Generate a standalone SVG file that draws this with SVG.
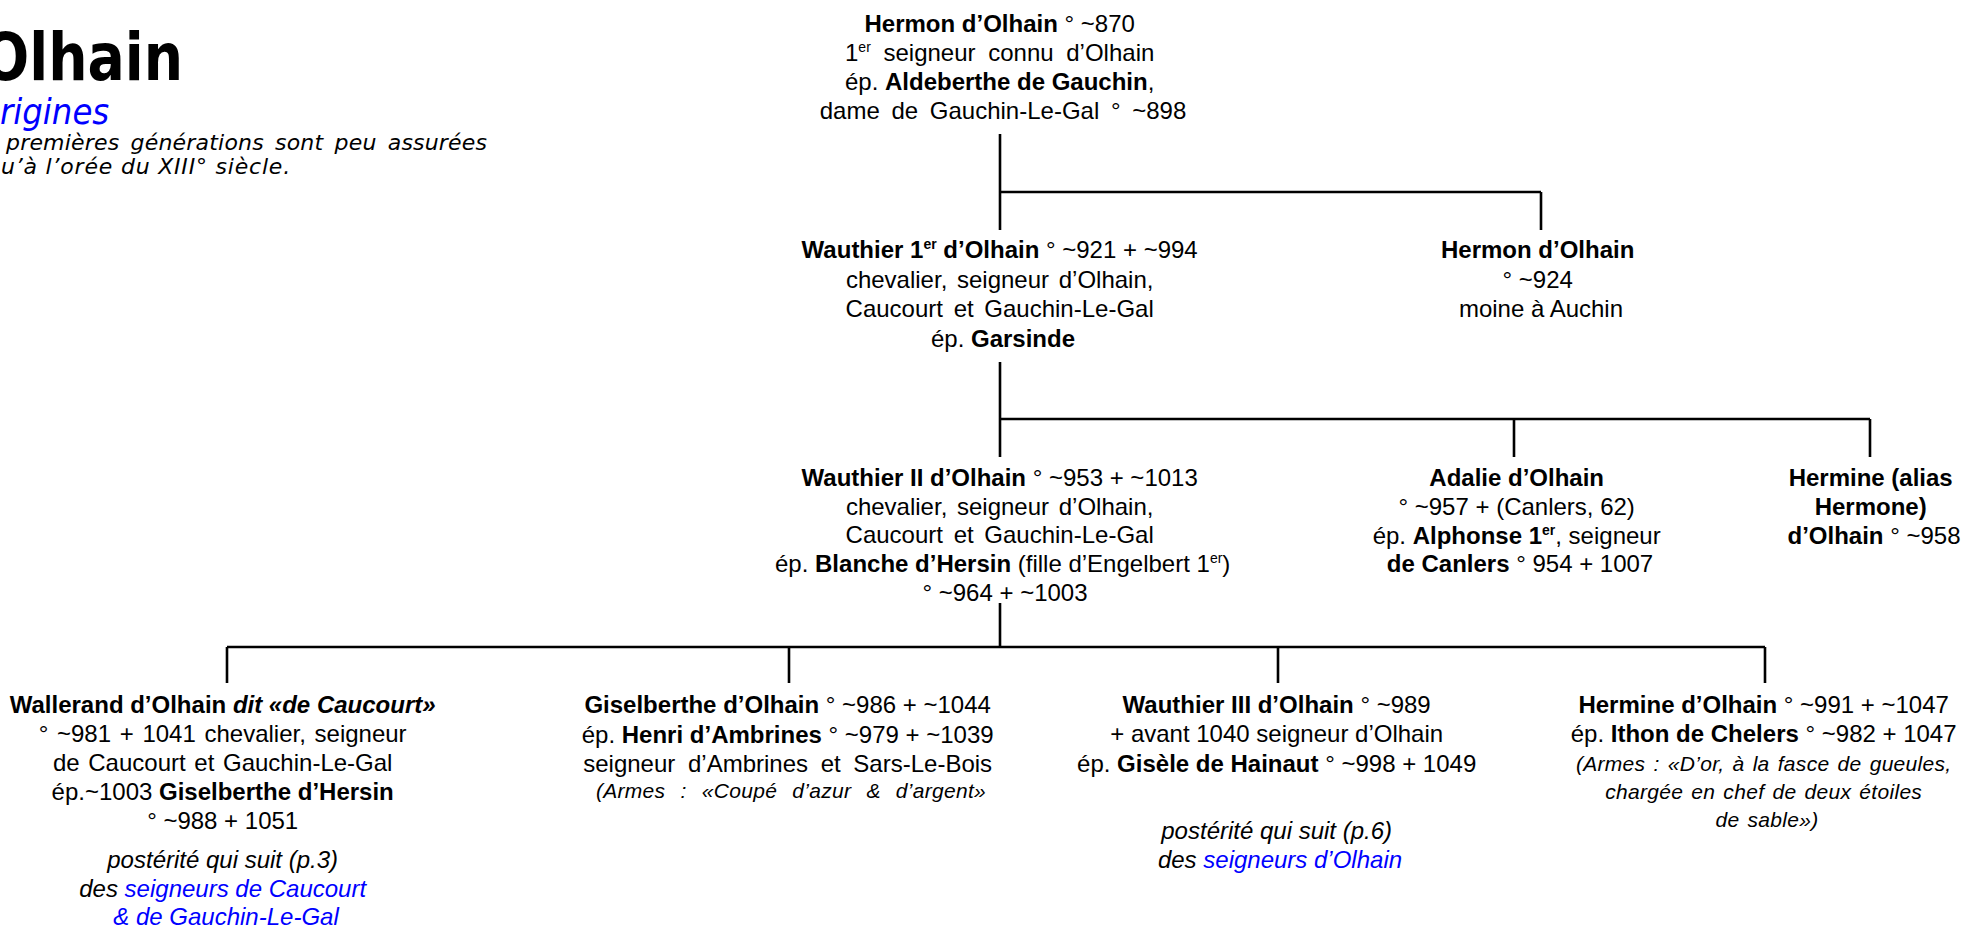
<svg xmlns="http://www.w3.org/2000/svg" width="1963" height="928" viewBox="0 0 1963 928">
<style>
.t{font-family:"Liberation Sans",Arial,sans-serif;font-size:24px;fill:#000;text-anchor:middle}
.b{font-weight:bold}
.i{font-style:italic}
.sup{font-size:14px}
.a{font-size:21px;font-style:italic;letter-spacing:0.3px;word-spacing:2px}
.aw{word-spacing:9px}
.lk{fill:#0000FF}
.title{font-family:"DejaVu Sans Condensed","DejaVu Sans",sans-serif;font-weight:bold;font-size:66px;fill:#000}
.sub{font-family:"DejaVu Sans Condensed","DejaVu Sans",sans-serif;font-style:italic;font-size:36px;fill:#0000FF}
.desc{font-family:"DejaVu Sans",sans-serif;font-style:italic;font-size:22px;fill:#000}
.ln{stroke:#000;stroke-width:2.6;fill:none}
</style>
<rect width="1963" height="928" fill="#fff"/>
<g id="title">
<text class="title" x="-19" y="80" transform="scale(0.93,1)">Olhain</text>
<text class="sub" x="0" y="124">rigines</text>
<text class="desc" x="6" y="150" textLength="481" lengthAdjust="spacing" word-spacing="4">premières générations sont peu assurées</text>
<text class="desc" x="1" y="174" letter-spacing="0.8">u’à l’orée du XIII° siècle.</text>
</g>
<g id="connectors">
<path class="ln" d="M1000 134V230M1000 192H1541M1541 192V230"/>
<path class="ln" d="M1000 362V457M1000 419H1870M1514 419V457M1870 419V457"/>
<path class="ln" d="M1000 603V647M227 647H1765M227 647V683M789 647V683M1278 647V683M1765 647V683"/>
</g>
<g id="n1">
<text class="t">
<tspan x="1003" y="32"><tspan class="b">Hermon d’Olhain</tspan> ° ~870</tspan>
<tspan x="1003" y="61" word-spacing="6">1<tspan class="sup" dy="-9">er</tspan><tspan dy="9"> seigneur connu d’Olhain</tspan></tspan>
<tspan x="1003" y="90">ép. <tspan class="b">Aldeberthe de Gauchin</tspan>,</tspan>
<tspan x="1003" y="119" word-spacing="5">dame de Gauchin-Le-Gal ° ~898</tspan>
</text>
</g>
<g id="n2">
<text class="t">
<tspan x="1003" y="258"><tspan class="b">Wauthier 1<tspan class="sup" dy="-9">er</tspan><tspan dy="9"> d’Olhain</tspan></tspan> ° ~921 + ~994</tspan>
<tspan x="1003" y="288" word-spacing="3">chevalier, seigneur d’Olhain,</tspan>
<tspan x="1003" y="317" word-spacing="4">Caucourt et Gauchin-Le-Gal</tspan>
<tspan x="1003" y="347">ép. <tspan class="b">Garsinde</tspan></tspan>
</text>
</g>
<g id="n3">
<text class="t">
<tspan x="1541" y="258" class="b">Hermon d’Olhain</tspan>
<tspan x="1541" y="288">° ~924</tspan>
<tspan x="1541" y="317">moine à Auchin</tspan>
</text>
</g>
<g id="n4">
<text class="t">
<tspan x="1003" y="486"><tspan class="b">Wauthier II d’Olhain</tspan> ° ~953 + ~1013</tspan>
<tspan x="1003" y="515" word-spacing="3">chevalier, seigneur d’Olhain,</tspan>
<tspan x="1003" y="543" word-spacing="4">Caucourt et Gauchin-Le-Gal</tspan>
<tspan x="1006" y="572">ép. <tspan class="b">Blanche d’Hersin</tspan> (fille d’Engelbert 1<tspan class="sup" dy="-9">er</tspan><tspan dy="9">)</tspan></tspan>
<tspan x="1005" y="601">° ~964 + ~1003</tspan>
</text>
</g>
<g id="n5">
<text class="t">
<tspan x="1520" y="486" class="b">Adalie d’Olhain</tspan>
<tspan x="1520" y="515">° ~957 + (Canlers, 62)</tspan>
<tspan x="1520" y="544">ép. <tspan class="b">Alphonse 1<tspan class="sup" dy="-9">er</tspan></tspan><tspan dy="9">, seigneur</tspan></tspan>
<tspan x="1520" y="572"><tspan class="b">de Canlers</tspan> ° 954 + 1007</tspan>
</text>
</g>
<g id="n6">
<text class="t">
<tspan x="1874" y="486" class="b">Hermine (alias</tspan>
<tspan x="1874" y="515" class="b">Hermone)</tspan>
<tspan x="1874" y="544"><tspan class="b">d’Olhain</tspan> ° ~958</tspan>
</text>
</g>
<g id="n7">
<text class="t">
<tspan x="226" y="713"><tspan class="b">Wallerand d’Olhain </tspan><tspan class="b i">dit «de Caucourt»</tspan></tspan>
<tspan x="226" y="742" word-spacing="2">° ~981 + 1041 chevalier, seigneur</tspan>
<tspan x="226" y="771" word-spacing="2">de Caucourt et Gauchin-Le-Gal</tspan>
<tspan x="226" y="800">ép.~1003 <tspan class="b">Giselberthe d’Hersin</tspan></tspan>
<tspan x="226" y="829">° ~988 + 1051</tspan>
<tspan x="226" y="868" class="i">postérité qui suit (p.3)</tspan>
<tspan x="226" y="897" class="i">des <tspan class="lk">seigneurs de Caucourt</tspan></tspan>
<tspan x="226" y="925" class="i lk">&amp; de Gauchin-Le-Gal</tspan>
</text>
</g>
<g id="n8">
<text class="t">
<tspan x="791" y="713"><tspan class="b">Giselberthe d’Olhain</tspan> ° ~986 + ~1044</tspan>
<tspan x="791" y="743">ép. <tspan class="b">Henri d’Ambrines</tspan> ° ~979 + ~1039</tspan>
<tspan x="791" y="772" word-spacing="6">seigneur d’Ambrines et Sars-Le-Bois</tspan>
<tspan x="791" y="798" class="a aw">(Armes : «Coupé d’azur &amp; d’argent»</tspan>
</text>
</g>
<g id="n9">
<text class="t">
<tspan x="1280" y="713"><tspan class="b">Wauthier III d’Olhain</tspan> ° ~989</tspan>
<tspan x="1280" y="742">+ avant 1040 seigneur d’Olhain</tspan>
<tspan x="1280" y="772">ép. <tspan class="b">Gisèle de Hainaut</tspan> ° ~998 + 1049</tspan>
<tspan x="1280" y="839" class="i">postérité qui suit (p.6)</tspan>
<tspan x="1280" y="868" class="i">des <tspan class="lk">seigneurs d’Olhain</tspan></tspan>
</text>
</g>
<g id="n10">
<text class="t">
<tspan x="1767" y="713"><tspan class="b">Hermine d’Olhain</tspan> ° ~991 + ~1047</tspan>
<tspan x="1767" y="742">ép. <tspan class="b">Ithon de Chelers</tspan> ° ~982 + 1047</tspan>
<tspan x="1767" y="771" class="a">(Armes : «D’or, à la fasce de gueules,</tspan>
<tspan x="1767" y="799" class="a">chargée en chef de deux étoiles</tspan>
<tspan x="1767" y="827" class="a">de sable»)</tspan>
</text>
</g>
</svg>
